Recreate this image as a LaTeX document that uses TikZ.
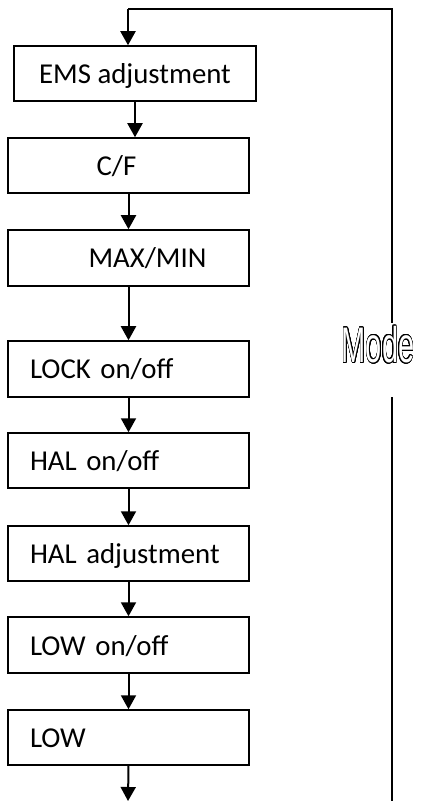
\documentclass[tikz,border=0pt]{standalone}
\usepackage{fontspec}
\usepackage{graphicx}
\usepackage[copies]{contour}
\contournumber{24}
\contourlength{0.4pt}
\setmainfont{Carlito}
\newfontfamily\modefont{Liberation Sans}
\usetikzlibrary{arrows.meta}
\begin{document}
\begin{tikzpicture}[x=0.5pt,y=-0.5pt,
  box/.style={draw, line width=0.75pt, minimum width=120.5pt, minimum height=27.5pt,
    inner ysep=0pt, font=\fontsize{14.4}{17}\selectfont, text height=10pt, text depth=0pt},
  lbox/.style={box, inner xsep=11pt, text width=98.5pt, align=left},
  cbox/.style={box, inner xsep=0pt, align=center},
  arr/.style={line width=1pt, -{Triangle[width=7.5pt,length=7pt]}},
  loop/.style={line width=0.7pt}]
\useasboundingbox (0,0) rectangle (420,801);
\node[cbox, minimum width=121pt] (ems) at (135,73.5) {EMS adjustment};
\node[cbox] (cf) at (128.5,165.5) {C/F\hspace{12pt}};
\node[cbox, minimum height=28pt] (mm) at (128.5,258) {\hspace{19pt}MAX/MIN};
\node[lbox, minimum height=28pt] (lock) at (128.5,369) {LOCK on/off};
\node[lbox] (halo) at (128.5,460.5) {HAL on/off};
\node[lbox] (hala) at (128.5,553.5) {HAL adjustment};
\node[lbox, minimum height=28pt] (lowo) at (128.5,645) {LOW on/off};
\node[lbox] (low) at (128.5,737.5) {LOW};
\node[inner sep=0pt] (mode) at (378,345) {\scalebox{0.58}[1]{\modefont\fontsize{25}{30}\selectfont\contour{black}{\textcolor{white}{Mode}}}};
\coordinate (mtop) at (392,323);
\coordinate (mbot) at (392,397);
\coordinate (rbot) at (392,801);
\coordinate (tl) at (128,9);
\coordinate (endc) at (128,801);
\draw[loop] (rbot) -- (mbot);
\draw[loop] (mtop) |- (tl);
\draw[arr] (tl) -- (tl |- ems.north);
\draw[arr] (ems.south) -- (ems.south |- cf.north);
\draw[arr] (cf.south) -- (mm.north);
\draw[arr] (mm.south) -- (lock.north);
\draw[arr] (lock.south) -- (halo.north);
\draw[arr] (halo.south) -- (hala.north);
\draw[arr] (hala.south) -- (lowo.north);
\draw[arr] (lowo.south) -- (low.north);
\draw[arr] (low.south) -- (endc);
\end{tikzpicture}
\end{document}
